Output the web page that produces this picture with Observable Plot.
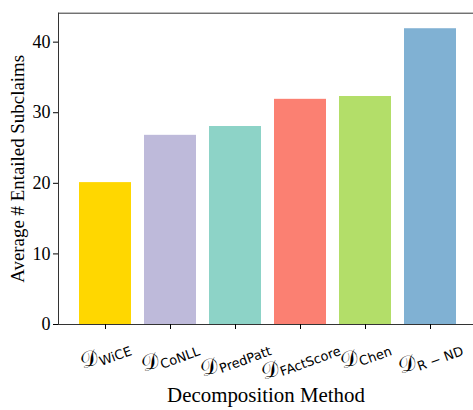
<!DOCTYPE html>
<html>
<head>
<meta charset="utf-8">
<script src="https://cdn.jsdelivr.net/npm/d3@7"></script>
<script src="https://cdn.jsdelivr.net/npm/@observablehq/plot@0.6"></script>
<style>
  html, body { margin: 0; padding: 0; background: #fff; }
  #chart svg { display: block; }
</style>
</head>
<body>
<div id="chart"></div>
<script>
const methods = ["WiCE", "CoNLL", "PredPatt", "FActScore", "Chen", "R − ND"];
const values = [20.1, 26.8, 28.05, 31.9, 32.3, 41.9];
const colors = ["#ffd700", "#bebada", "#8dd3c7", "#fb8072", "#b3de69", "#80b1d3"];
const yTicks = [0, 10, 20, 30, 40];
const xTitle = "Decomposition Method";
const yTitle = "Average # Entailed Subclaims";

const data = methods.map((m, i) => ({method: m, value: values[i], color: colors[i]}));

const serif = "'Liberation Serif', 'Times New Roman', serif";
const W = 473, H = 410;
const plot = Plot.plot({
  width: W,
  height: H,
  marginLeft: 58,
  marginRight: 0,
  marginTop: 12.7,
  marginBottom: 86,
  style: {fontFamily: serif, fontSize: "17px", color: "#000", background: "#fff"},
  x: {domain: methods, range: [58, 476.5], paddingInner: 0.2, paddingOuter: 0.285, align: 0.5},
  y: {domain: [0, 44.1], range: [324, 12.7]},
  marks: [
    Plot.barY(data, {x: "method", y: "value", fill: "color"}),
    Plot.frame({anchor: "top", stroke: "#333", strokeWidth: 1}),
    Plot.frame({anchor: "left", stroke: "#333", strokeWidth: 1}),
    Plot.frame({anchor: "bottom", stroke: "#333", strokeWidth: 1}),
    Plot.axisY({ticks: yTicks, tickSize: 5, tickPadding: 3, label: null, fontSize: 18, fontFamily: serif}),
    Plot.axisX({tickSize: 5, text: null, label: null}),
    Plot.text([yTitle], {frameAnchor: "left", textAnchor: "middle", rotate: -90, dx: -41, fontSize: 18, fontFamily: serif}),
    Plot.text([xTitle], {frameAnchor: "bottom", textAnchor: "middle", dy: 77, fontSize: 19, fontFamily: serif})
  ]
});
document.getElementById("chart").appendChild(plot);

const svg = d3.select(plot);
// force serif on every Plot text (tick labels included)
svg.selectAll("text").style("font-family", serif).style("font-variant", "normal");
// fit the titles to the reference's measured lengths
function fit(str, target) {
  svg.selectAll("text").filter(function() { return this.textContent === str; }).each(function() {
    const len = this.getComputedTextLength();
    const fs = parseFloat(getComputedStyle(this).fontSize);
    if (len > 0) d3.select(this).style("font-size", (fs * target / len) + "px");
  });
}
fit(yTitle, 228);
fit(xTitle, 198);

// Math-style tick labels (𝒟 with subscript), placed via the Plot x scale
const xs = plot.scale("x");
const bw = xs.bandwidth;
const angle = -20;
const g = svg.append("g").attr("class", "xlabels");
methods.forEach(m => {
  const cx = xs.apply(m) + bw / 2;
  const t = g.append("text")
    .attr("font-family", "'DejaVu Sans', sans-serif")
    .attr("fill", "#000");
  t.append("tspan").attr("font-size", 22).attr("font-family", "'DejaVu Serif', 'DejaVu Sans', serif").text("𝒟");
  t.append("tspan").attr("font-size", 13).attr("dy", 3).text(m);
  const bb = t.node().getBBox();
  const w = bb.width, h = bb.height;
  const th = Math.abs(angle) * Math.PI / 180;
  const rh = w * Math.sin(th) + h * Math.cos(th);
  const top = 324 + 5 + 4;
  const cy = top + rh / 2;
  const ox = bb.x + w / 2, oy = bb.y + h / 2;
  t.attr("transform", `translate(${cx},${cy}) rotate(${angle}) translate(${-ox},${-oy})`);
});
</script>
</body>
</html>
